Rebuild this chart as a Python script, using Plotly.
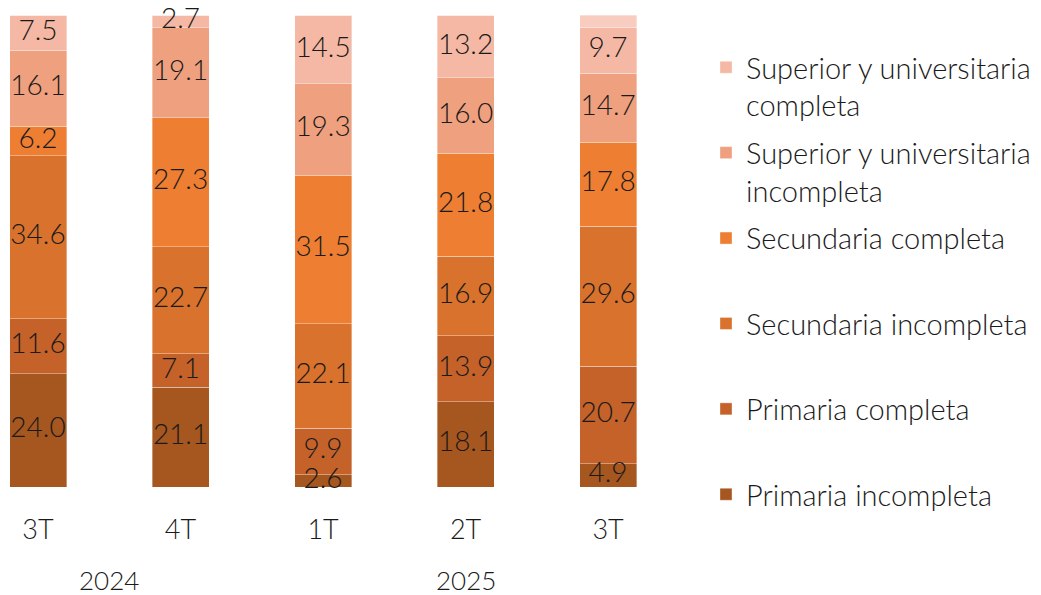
import plotly.graph_objects as go

quarters = ["3T", "4T", "1T", "2T", "3T"]
years = ["2024", "2024", "2025", "2025", "2025"]

primaria_incompleta = [24.0, 21.1, 2.6, 18.1, 4.9]
primaria_completa = [11.6, 7.1, 9.9, 13.9, 20.7]
secundaria_incompleta = [34.6, 22.7, 22.1, 16.9, 29.6]
secundaria_completa = [6.2, 27.3, 31.5, 21.8, 17.8]
superior_incompleta = [16.1, 19.1, 19.3, 16.0, 14.7]
superior_completa = [7.5, 2.7, 14.5, 13.2, 9.7]
sin_dato = [0.0, 0.0, 0.0, 0.0, 2.6]

series = [
    ("Primaria incompleta<br> ", primaria_incompleta, "#A6561F", True),
    ("Primaria completa<br> ", primaria_completa, "#C4622A", True),
    ("Secundaria incompleta<br> ", secundaria_incompleta, "#D9722D", True),
    ("Secundaria completa<br> ", secundaria_completa, "#ED7E32", True),
    ("Superior y universitaria<br>incompleta", superior_incompleta, "#EFA07E", True),
    ("Superior y universitaria<br>completa", superior_completa, "#F5B8A4", True),
    ("Sin dato", sin_dato, "#F8CCBF", False),
]

FONT = "Lato"
xs = list(range(len(quarters)))

fig = go.Figure()
base = [0.0] * len(xs)
lab_x, lab_y, lab_t = [], [], []
for i, (name, vals, color, labeled) in enumerate(series):
    fig.add_trace(go.Bar(
        x=xs, y=vals, name=name, width=0.4,
        marker=dict(color=color, line=dict(width=0.6, color="rgba(255,255,255,0.6)")),
        showlegend=labeled, legendgroup=f"g{i}", legendrank=20 - i,
        hoverinfo="skip",
    ))
    for k, v in enumerate(vals):
        if labeled and v > 0:
            lab_x.append(xs[k])
            lab_y.append(base[k] + v / 2)
            lab_t.append(f"{v:.1f}")
        base[k] += v

# value labels centred in each segment
fig.add_trace(go.Scatter(
    x=lab_x, y=lab_y, text=lab_t, mode="text", textposition="middle center",
    textfont=dict(family=FONT, size=28, color="#1a1a1a", weight=300),
    cliponaxis=False, showlegend=False, hoverinfo="skip",
))

# year labels centred under their quarters
annotations = []
for yr in dict.fromkeys(years):
    idx = [k for k, y in enumerate(years) if y == yr]
    annotations.append(dict(
        x=sum(idx) / len(idx), y=-0.196, xref="x", yref="paper",
        text=yr, showarrow=False, yanchor="middle",
        font=dict(family=FONT, size=26, color="#1a1a1a", weight=300),
    ))

fig.update_layout(
    width=1033, height=587,
    margin=dict(l=0, r=0, t=7, b=108),
    paper_bgcolor="white", plot_bgcolor="white",
    barmode="stack",
    xaxis=dict(
        domain=[0, 0.6602], range=[-0.2105, 4.575],
        tickvals=xs, ticktext=quarters, showgrid=False, zeroline=False,
        showline=False, ticks="", ticklabelstandoff=24,
        tickfont=dict(family=FONT, size=27, color="#1a1a1a", weight=300),
    ),
    yaxis=dict(range=[0, 100], visible=False),
    legend=dict(
        x=0.6757, xanchor="left", y=0.943, yanchor="top",
        traceorder="grouped", tracegroupgap=7, valign="top",
        maxheight=580,
        font=dict(family=FONT, size=29, color="#1a1a1a", weight=300),
        bgcolor="rgba(0,0,0,0)",
    ),
    annotations=annotations,
    showlegend=True,
)

fig.write_html("out.html")
